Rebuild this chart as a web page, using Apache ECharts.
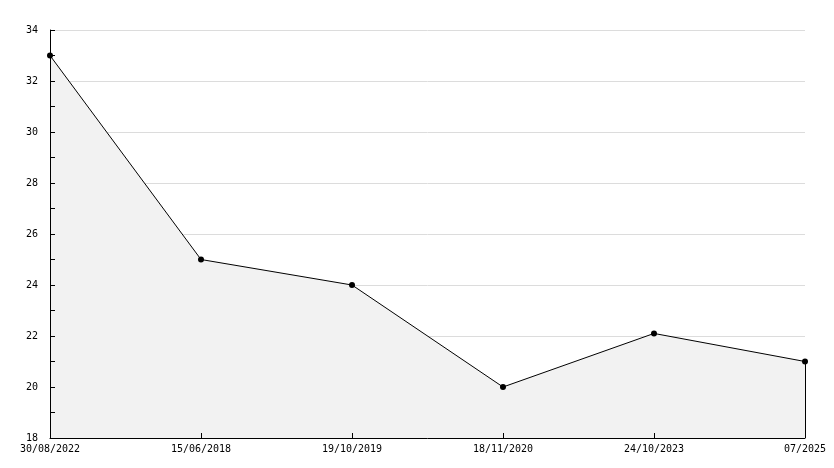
<!DOCTYPE html>
<html><head><meta charset="utf-8">
<script src="https://cdn.jsdelivr.net/npm/echarts@6/dist/echarts.min.js"></script>
<style>html,body{margin:0;padding:0;background:#fff}#c{width:834px;height:468px}</style>
</head><body><div id="c"></div>
<script>
var categories = ['30/08/2022','15/06/2018','19/10/2019','18/11/2020','24/10/2023','07/2025'];
var values = [33, 25, 24, 20, 22.1, 21];
var yMin = 18, yMax = 34, yStep = 2;

var chart = echarts.init(document.getElementById('c'));
var font = 'DejaVu Sans Mono';
chart.setOption({
  animation: false,
  grid: {left: 50, right: 29, top: 30, bottom: 30},
  xAxis: {
    type: 'category', data: categories, boundaryGap: false, z: 10,
    axisLine: {lineStyle: {color: '#000', width: 1}},
    axisTick: {inside: true, length: 5, lineStyle: {color: '#000'}, alignWithLabel: true},
    axisLabel: {color: '#000', fontFamily: font, fontSize: 10, margin: 6, interval: 0, showMinLabel: true, showMaxLabel: true},
    splitLine: {show: false}
  },
  yAxis: [{
    type: 'value', min: yMin, max: yMax, interval: yStep, z: 0,
    axisLine: {show: false}, axisTick: {show: false}, axisLabel: {show: false},
    splitLine: {show: true, lineStyle: {color: '#dcdcdc', width: 1}}
  }, {
    type: 'value', min: yMin, max: yMax, interval: yStep, z: 10, position: 'left',
    axisLine: {show: true, lineStyle: {color: '#000', width: 1}},
    axisTick: {show: true, inside: true, length: 5, lineStyle: {color: '#000'}},
    minorTick: {show: true, splitNumber: 2, length: 5, lineStyle: {color: '#000'}},
    axisLabel: {color: '#000', fontFamily: font, fontSize: 10, margin: 12},
    splitLine: {show: false}
  }],
  series: [{
    type: 'line', data: values, yAxisIndex: 0,
    symbol: 'circle', symbolSize: 6,
    itemStyle: {color: '#000'},
    lineStyle: {color: '#000', width: 1},
    areaStyle: {color: '#f2f2f2', opacity: 1, origin: 'start'},
    markLine: {
      silent: true, symbol: ['none','none'], label: {show: false},
      lineStyle: {color: '#000', width: 1, type: 'solid'},
      data: [[{coord: [categories.length - 1, values[values.length - 1]]}, {coord: [categories.length - 1, yMin]}]]
    }
  }]
});
</script></body></html>
